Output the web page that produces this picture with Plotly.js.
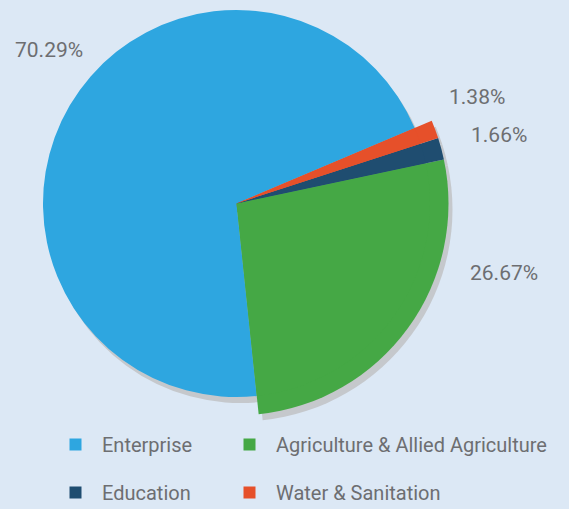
<!DOCTYPE html>
<html><head><meta charset="utf-8">
<script src="https://cdn.plot.ly/plotly-3.0.1.min.js"></script>
<style>
html,body{margin:0;padding:0;background:#dce8f5;overflow:hidden;width:569px;height:509px;}
#chart{position:absolute;left:0;top:-31px;width:569px;height:580px;}
</style>
</head><body><div id="chart"></div>
<script>
// ---- data ----
const categories = ['Enterprise', 'Agriculture & Allied Agriculture', 'Education', 'Water & Sanitation'];
const shares = [70.29, 26.67, 1.66, 1.38];
const sliceColors = ['#2ea6e0', '#45a845', '#1f4d70', '#e6502a'];
const percentLabels = shares.map(v => v.toFixed(2) + '%');

// ---- layout helpers (positions in paper pixels; paper top sits 31px above the window) ----
const W = 569, H = 580;
function dom(cx, cy, r) {
  return {x: [(cx - r) / W, (cx + r) / W], y: [1 - (cy + r) / H, 1 - (cy - r) / H]};
}
const clear = 'rgba(0,0,0,0)';
const shadowCol = '#c5c8cc';
const textColor = '#6d6e71';
const family = 'Roboto, "Liberation Sans", sans-serif';
const legendFont = {family: family, size: 20, color: textColor};
const labelFont = {family: family, size: 21, color: textColor};

const base = {
  type: 'pie', sort: false, direction: 'counterclockwise', rotation: 174,
  textinfo: 'none', hoverinfo: 'label+percent', showlegend: false
};

const legendIds = ['legend', 'legend2', 'legend3', 'legend4'];

const traces = [
  Object.assign({}, base, {labels: categories, values: shares,
    marker: {colors: categories.map(() => shadowCol)}, domain: dom(240.5, 240.5, 193.5)}),
  Object.assign({}, base, {labels: categories, values: shares,
    marker: {colors: categories.map((c, i) => i === 0 ? clear : shadowCol)}, domain: dom(240.5, 240.5, 212)})
];
// one legend entry per category (tiny pies hidden under the main pie)
categories.forEach((c, i) => {
  traces.push(Object.assign({}, base, {labels: [c], values: [shares[i]],
    marker: {colors: [sliceColors[i]]}, domain: dom(236.5, 234.5, 8),
    showlegend: true, legend: legendIds[i]}));
});
traces.push(Object.assign({}, base, {labels: categories, values: shares,
  marker: {colors: sliceColors.map((c, i) => i === 0 ? clear : c)}, domain: dom(236.5, 234.5, 212)}));
traces.push(Object.assign({}, base, {labels: categories, values: shares,
  marker: {colors: sliceColors}, domain: dom(236.5, 234.5, 193.5)}));

const legendBase = {
  orientation: 'h', xanchor: 'left', yanchor: 'middle', itemwidth: 43,
  font: legendFont, bgcolor: clear, borderwidth: 0
};
// [x, y] in paper pixels for each legend entry (2 x 2 grid)
const legendPos = [[49, 475.5], [223, 475.5], [49, 523.5], [223, 523.5]];

const labelPos = [[48.5, 81], [504, 303.5], [499, 166], [477, 128.5]];
const annotations = percentLabels.map((t, i) => ({
  text: t, showarrow: false, xref: 'paper', yref: 'paper',
  x: labelPos[i][0] / W, y: 1 - labelPos[i][1] / H, xanchor: 'center', yanchor: 'middle', font: labelFont
}));

const layout = {
  width: W, height: H, margin: {l: 0, r: 0, t: 0, b: 0, autoexpand: false},
  paper_bgcolor: '#dce8f5', plot_bgcolor: '#dce8f5',
  showlegend: true,
  annotations: annotations
};
legendIds.forEach((id, i) => {
  layout[id] = Object.assign({}, legendBase, {x: legendPos[i][0] / W, y: 1 - legendPos[i][1] / H});
});

Plotly.newPlot('chart', traces, layout, {displayModeBar: false, staticPlot: true});
</script>
</body></html>
